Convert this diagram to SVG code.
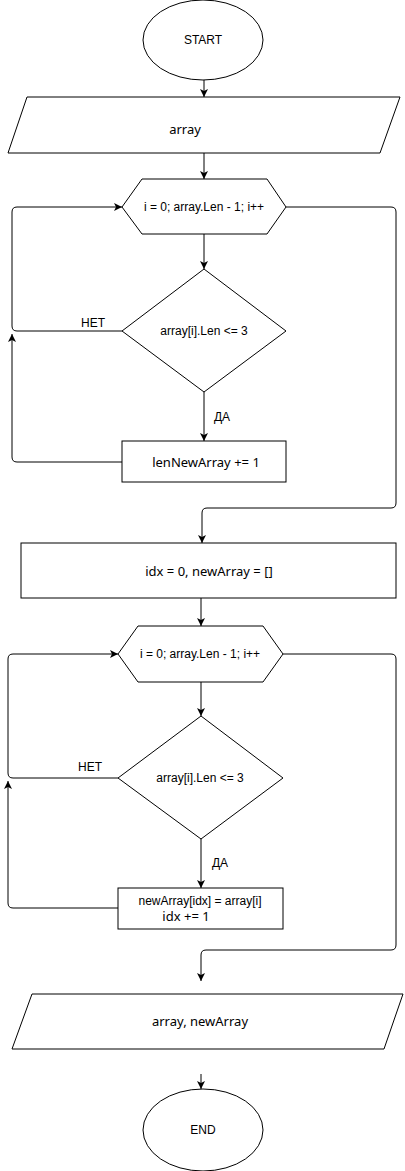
<svg xmlns="http://www.w3.org/2000/svg" width="405" height="1171" viewBox="0 0 405 1171">
<style>
.shape{fill:#fff;stroke:#000;stroke-width:1}
.conn{fill:none;stroke:#000;stroke-width:1}
.t{font-family:"Liberation Sans",Arial,sans-serif;font-size:12px;fill:#000;text-anchor:middle}
.c{font-family:"Noto Sans","Open Sans",sans-serif;font-size:13px;fill:#000;text-anchor:middle}
</style>
<defs>
<marker id="arr" markerUnits="userSpaceOnUse" markerWidth="10" markerHeight="10" refX="8" refY="4" orient="auto">
<path d="M0,0 L8,4 L0,8 L2,4 Z" fill="#000"/>
</marker>
</defs>
<rect width="405" height="1171" fill="#fff"/>
<g id="connectors">
<path class="conn" d="M204,80 V97" marker-end="url(#arr)"/>
<path class="conn" d="M204,153 V179" marker-end="url(#arr)"/>
<path class="conn" d="M204,234 V269" marker-end="url(#arr)"/>
<path class="conn" d="M204,392 V441" marker-end="url(#arr)"/>
<path class="conn" d="M122,331 H17 Q12,331 12,326 V212 Q12,207 17,207 H122" marker-end="url(#arr)"/>
<path class="conn" d="M122,462 H17 Q12,462 12,457 V334" marker-end="url(#arr)"/>
<path class="conn" d="M286,207 H391 Q396,207 396,212 V503 Q396,508 391,508 H207 Q202,508 202,513 V543" marker-end="url(#arr)"/>
<path class="conn" d="M201,598 V626" marker-end="url(#arr)"/>
<path class="conn" d="M201,682 V716" marker-end="url(#arr)"/>
<path class="conn" d="M201,839 V888" marker-end="url(#arr)"/>
<path class="conn" d="M118,778 H13 Q8,778 8,773 V659 Q8,654 13,654 H118" marker-end="url(#arr)"/>
<path class="conn" d="M118,908 H13 Q8,908 8,903 V781" marker-end="url(#arr)"/>
<path class="conn" d="M283,654 H391 Q396,654 396,659 V945 Q396,950 391,950 H206 Q201,950 201,955 V981" marker-end="url(#arr)"/>
<path class="conn" d="M201,1074 V1089" marker-end="url(#arr)"/>
<text class="t" x="93" y="327">НЕТ</text>
<text class="t" x="222" y="421">ДА</text>
<text class="t" x="90" y="771">НЕТ</text>
<text class="t" x="220" y="867">ДА</text>
</g>
<g id="start">
<ellipse class="shape" cx="203" cy="40" rx="60" ry="40"/>
<text class="t" x="203" y="44">START</text>
</g>
<g id="input-array">
<polygon class="shape" points="27,97 400,97 380,153 8,153"/>
<text class="c" x="185" y="134">array</text>
</g>
<g id="loop1">
<polygon class="shape" points="122,207 142,179 267,179 286,207 267,234 142,234"/>
<text class="t" x="204" y="211">i = 0; array.Len - 1; i++</text>
</g>
<g id="cond1">
<polygon class="shape" points="204,269 286,331 204,392 122,331"/>
<text class="t" x="204" y="335">array[i].Len &lt;= 3</text>
</g>
<g id="inc-len">
<rect class="shape" x="122" y="441" width="164" height="41"/>
<text class="c" x="206" y="467">lenNewArray += 1</text>
</g>
<g id="init">
<rect class="shape" x="21" y="543" width="375" height="55"/>
<text class="c" x="209" y="576">idx = 0, newArray = []</text>
</g>
<g id="loop2">
<polygon class="shape" points="118,654 138,626 263,626 283,654 263,682 138,682"/>
<text class="t" x="200" y="658">i = 0; array.Len - 1; i++</text>
</g>
<g id="cond2">
<polygon class="shape" points="201,716 283,778 201,839 118,778"/>
<text class="t" x="200" y="782">array[i].Len &lt;= 3</text>
</g>
<g id="assign">
<rect class="shape" x="118" y="888" width="165" height="41"/>
<text class="t" x="200" y="905">newArray[idx] = array[i]</text>
<text class="c" x="186" y="921">idx += 1</text>
</g>
<g id="output">
<polygon class="shape" points="32,994 403,994 384,1049 12,1049"/>
<text class="c" x="200" y="1026">array, newArray</text>
</g>
<g id="end">
<ellipse class="shape" cx="203" cy="1130" rx="60" ry="41"/>
<text class="t" x="203" y="1134">END</text>
</g>
</svg>
